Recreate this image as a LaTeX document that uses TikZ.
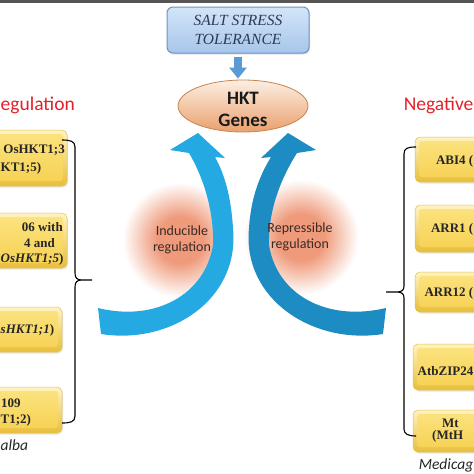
\documentclass[tikz,border=0pt]{standalone}
\usepackage{fontspec}
\setmainfont{Liberation Serif}
\newfontfamily\calib{Carlito}
\usetikzlibrary{shapes.geometric,arrows.meta,shadows}
\definecolor{topbar}{HTML}{555555}
\definecolor{yl}{HTML}{FFF3C2}
\definecolor{yd}{HTML}{E8BE3A}
\definecolor{ymt}{HTML}{FCE482}
\definecolor{ymb}{HTML}{F6D050}
\definecolor{yedge}{HTML}{E3C24E}
\definecolor{saltT}{HTML}{D3E5F8}
\definecolor{saltB}{HTML}{A7C6EA}
\definecolor{saltE}{HTML}{6F93C4}
\definecolor{salttxt}{HTML}{2C3A58}
\definecolor{hktT}{HTML}{FCEFE4}
\definecolor{hktB}{HTML}{E9A06C}
\definecolor{hktE}{HTML}{C8844E}
\definecolor{arrL}{HTML}{25A9E3}
\definecolor{arrR}{HTML}{1C8CC2}
\definecolor{darr}{HTML}{5B9BD5}
\definecolor{glow}{HTML}{EF9A7A}
\definecolor{hdr}{HTML}{E2222B}
\definecolor{glowtxt}{HTML}{3B2A28}
\pgfdeclareradialshading{glowsh}{\pgfpoint{0bp}{0bp}}{color(0bp)=(glow); color(8bp)=(glow); color(20bp)=(white); color(50bp)=(white)}
\tikzset{
 ybox/.style={rounded corners=5pt, top color=yl, bottom color=yd, draw=yedge, line width=0.5pt, inner sep=0pt,
   drop shadow={opacity=0.2, shadow xshift=1pt, shadow yshift=-1.5pt},
   path picture={\shade[top color=ymt,bottom color=ymb, rounded corners=3pt] ([shift={(4pt,-4pt)}]path picture bounding box.north west) rectangle ([shift={(-4pt,5pt)}]path picture bounding box.south east);}},
 btxt/.style={font=\fontsize{13}{15}\selectfont\bfseries, inner sep=0pt, text=black!85},
 brk/.style={draw=black, line width=1.1pt},
 hdrs/.style={font=\calib\fontsize{19.5}{24}\selectfont, text=hdr, inner sep=0pt},
 gtxt/.style={font=\calib\fontsize{14}{16.5}\selectfont, text=glowtxt, align=center, inner sep=0pt},
 spec/.style={font=\calib\itshape\fontsize{15.5}{18}\selectfont, inner sep=0pt, text=black!85},
}
\begin{document}
\begin{tikzpicture}[x=1pt,y=-1pt]
\useasboundingbox (0,0) rectangle (474,474);
\clip (0,0) rectangle (474,474);
\fill[white] (0,0) rectangle (474,474);
\fill[topbar] (0,0) rectangle (474,2.5);

% glows
\shade[shading=glowsh] (180,240) circle (72);
\shade[shading=glowsh] (301,237) circle (72);

% curved arrows
\fill[arrL] (101,334) .. controls (170,345) and (240,300) .. (233,228)
  .. controls (231,197) and (225,175) .. (215,157) -- (225,158) -- (198,133) -- (170,150) -- (189,153)
  .. controls (202,175) and (214,208) .. (213,245)
  .. controls (205,295) and (155,322) .. (98,308) -- cycle;
\fill[arrR] (383,334) .. controls (314,345) and (242,300) .. (249,228)
  .. controls (251,197) and (260,175) .. (271,157) -- (261,158) -- (288,133) -- (316,150) -- (297,153)
  .. controls (283,175) and (268,208) .. (269,245)
  .. controls (277,295) and (327,322) .. (386,308) -- cycle;

\node[gtxt] (ind) at (182,240) {Inducible\\regulation};
\node[gtxt] (rep) at (300,237) {Repressible\\regulation};

% top boxes
\node[rounded corners=6pt, top color=saltT, bottom color=saltB, draw=saltE, line width=1pt,
  drop shadow={opacity=0.25, shadow xshift=1pt, shadow yshift=-1.5pt},
  minimum width=142pt, minimum height=46pt, align=center, text=salttxt,
  font=\itshape\fontsize{15.5}{19}\selectfont] (salt) at (238,30) {SALT STRESS\\TOLERANCE};
\node[ellipse, minimum width=130pt, minimum height=52pt, top color=hktT, bottom color=hktB,
  draw=hktE, line width=0.8pt, inner sep=0pt] (hkt) at (243,106) {};
\node[align=center, inner sep=0pt, text=black!90,
  font=\calib\bfseries\fontsize{19}{22}\selectfont] (hkttxt) at (243,109) {HKT\\Genes};
\draw[darr, line width=8pt, -{Triangle[width=17pt,length=11pt]}, shorten >=1pt]
  ([yshift=-3pt]salt.south) -- (salt.south |- hkt.north);

% headers
\node[hdrs, anchor=west] (hl) at (0.5,105) {egulation};
\node[hdrs, anchor=east] (hr) at (473.5,105) {Negative};

% left boxes
\node[ybox, minimum width=127pt, minimum height=56pt] (L1) at (3.5,158) {};
\node[ybox, minimum width=127pt, minimum height=55pt] (L2) at (3.5,240.5) {};
\node[ybox, minimum width=122pt, minimum height=45pt] (L3) at (1,329.5) {};
\node[ybox, minimum width=122pt, minimum height=46pt] (L4) at (1,410) {};
\node[btxt, anchor=east] (l1a) at (65,150) {OsHKT1;3};
\node[btxt, anchor=west] (l1b) at (0.5,168) {KT1;5)};
\node[btxt, anchor=east] (l2a) at (63,227) {06 with};
\node[btxt, anchor=east] (l2b) at (55,243) {4 and};
\node[btxt, anchor=west] (l2c) at (0.5,259) {\textit{OsHKT1;5})};
\node[btxt, anchor=west] (l3a) at (0.5,330) {\textit{sHKT1;1})};
\node[btxt, anchor=west] (l4a) at (1,403) {109};
\node[btxt, anchor=west] (l4b) at (0.5,420) {T1;2)};
\node[spec, anchor=west] (alba) at (0.5,445) {alba};

% right boxes
\node[ybox, minimum width=126pt, minimum height=45pt] (R1) at (478,159.5) {};
\node[ybox, minimum width=126pt, minimum height=47pt] (R2) at (478,228.5) {};
\node[ybox, minimum width=126pt, minimum height=40pt] (R3) at (478,292) {};
\node[ybox, minimum width=128pt, minimum height=46pt] (R4) at (477,367) {};
\node[ybox, minimum width=128pt, minimum height=42pt] (R5) at (477,431) {};
\node[btxt, anchor=east] (r1a) at (473.5,161) {ABI4 (};
\node[btxt, anchor=east] (r2a) at (473.5,229) {ARR1 (};
\node[btxt, anchor=east] (r3a) at (473.5,293) {ARR12 (};
\node[btxt, anchor=east] (r4a) at (473.5,371) {AtbZIP24};
\node[btxt, anchor=west] (r5a) at (442,423) {Mt};
\node[btxt, anchor=west] (r5b) at (432,436) {(MtH};
\node[spec, anchor=east] (med) at (473.5,465) {Medicag};

% brackets
\coordinate (lbt) at (92,280);
\coordinate (rbt) at (386,292);
\draw[brk] (62,140) .. controls (70,140) and (75,141) .. (75,147) -- (75,273)
  .. controls (75,278) and (77,280) .. (82,280) -- (lbt) -- (82,280)
  .. controls (77,280) and (75,282) .. (75,287) -- (75,416)
  .. controls (75,422) and (70,423) .. (62,423);
\draw[brk] (416,147) .. controls (408,147) and (404,148) .. (404,154) -- (404,286)
  .. controls (404,290) and (402,292) .. (397,292) -- (rbt) -- (397,292)
  .. controls (402,292) and (404,294) .. (404,298) -- (404,429)
  .. controls (404,434) and (408,436) .. (416,436);
\end{tikzpicture}
\end{document}
